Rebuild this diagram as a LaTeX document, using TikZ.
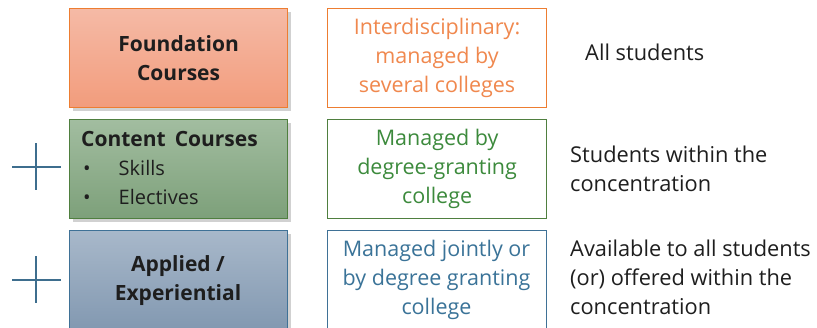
\documentclass[tikz,border=0pt]{standalone}
\usepackage{fontspec}
\setmainfont{Open Sans}
\usetikzlibrary{shadows}
\definecolor{orbord}{HTML}{ED7D31}
\definecolor{ortext}{HTML}{F0884E}
\definecolor{ortop}{HTML}{F5BAA6}
\definecolor{orbot}{HTML}{F29C7C}
\definecolor{grbord}{HTML}{4F7F3F}
\definecolor{grtext}{HTML}{3C8A3C}
\definecolor{grtop}{HTML}{A2BDA0}
\definecolor{grbot}{HTML}{7DA07A}
\definecolor{blbord}{HTML}{3F7196}
\definecolor{bltext}{HTML}{3A7398}
\definecolor{bltop}{HTML}{A8B8CA}
\definecolor{blbot}{HTML}{7E95AE}
\definecolor{plusc}{HTML}{3E6E8E}
\definecolor{txt}{HTML}{1E1E1E}
\begin{document}
\begin{tikzpicture}[x=1pt,y=-1pt,
  bigbold/.style={font=\fontsize{21}{29}\selectfont\bfseries, text=txt},
  leftbox/.style={draw=#1bord, line width=1.2pt, top color=#1top, bottom color=#1bot,
     minimum width=218pt, minimum height=99pt, inner sep=0pt, anchor=north west,
     drop shadow={shadow xshift=3pt, shadow yshift=-3pt, opacity=0.3, fill=black!60},
     bigbold, align=center},
  rightbox/.style={draw=#1bord, line width=1.2pt, fill=white,
     minimum width=219pt, minimum height=99pt, inner sep=0pt, anchor=north west,
     font=\fontsize{21.5}{29}\selectfont, text=#1text, align=center},
  note/.style={font=\fontsize{21.8}{29}\selectfont, text=txt, align=left, anchor=west, inner sep=0pt},
  plus/.style={draw=plusc, line width=2.6pt}
]
\useasboundingbox (0,0) rectangle (817,327);
\clip (0,0) rectangle (817,327);
\node[leftbox=or] (found) at (69,8) {Foundation\\Courses};
\node[leftbox=gr] (content) at (69,119) {};
\node[bigbold, anchor=west, inner sep=0pt] (ctitle) at (81,139) {Content\, Courses};
\node[font=\fontsize{20}{29}\selectfont, text=txt, anchor=west, inner sep=0pt, align=left] (clist) at (83,182.5) {\textbullet\hspace{28pt}Skills\\\textbullet\hspace{28pt}Electives};
\node[leftbox=bl, minimum height=110pt] (applied) at (69,230) {};
\node[bigbold, align=center] (aptext) at (178,280.5) {Applied /\\Experiential};

\node[rightbox=or] (inter) at (327,8) {Interdisciplinary:\\managed by\\several colleges};
\node[rightbox=gr] (degree) at (327,119) {Managed by\\degree-granting\\college};
\node[rightbox=bl, minimum height=110pt] (joint) at (327,230) {};
\node[font=\fontsize{21.5}{29}\selectfont, text=bltext, align=center] (jtext) at (436.5,280) {Managed jointly or\\by degree granting\\college};

\node[note] (n1) at (585,52) {All students};
\node[note] (n2) at (570,169) {Students within the\\concentration};
\node[note] (n3) at (570,277) {Available to all students\\(or) offered within the\\concentration};

\coordinate (p1l) at (12,167); \coordinate (p1r) at (61,167);
\coordinate (p1t) at (36,143); \coordinate (p1b) at (36,190);
\draw[plus] (p1l) -- (p1r);
\draw[plus] (p1t) -- (p1b);
\coordinate (p2l) at (12,280); \coordinate (p2r) at (61,280);
\coordinate (p2t) at (36,256); \coordinate (p2b) at (36,303);
\draw[plus] (p2l) -- (p2r);
\draw[plus] (p2t) -- (p2b);
\end{tikzpicture}
\end{document}
